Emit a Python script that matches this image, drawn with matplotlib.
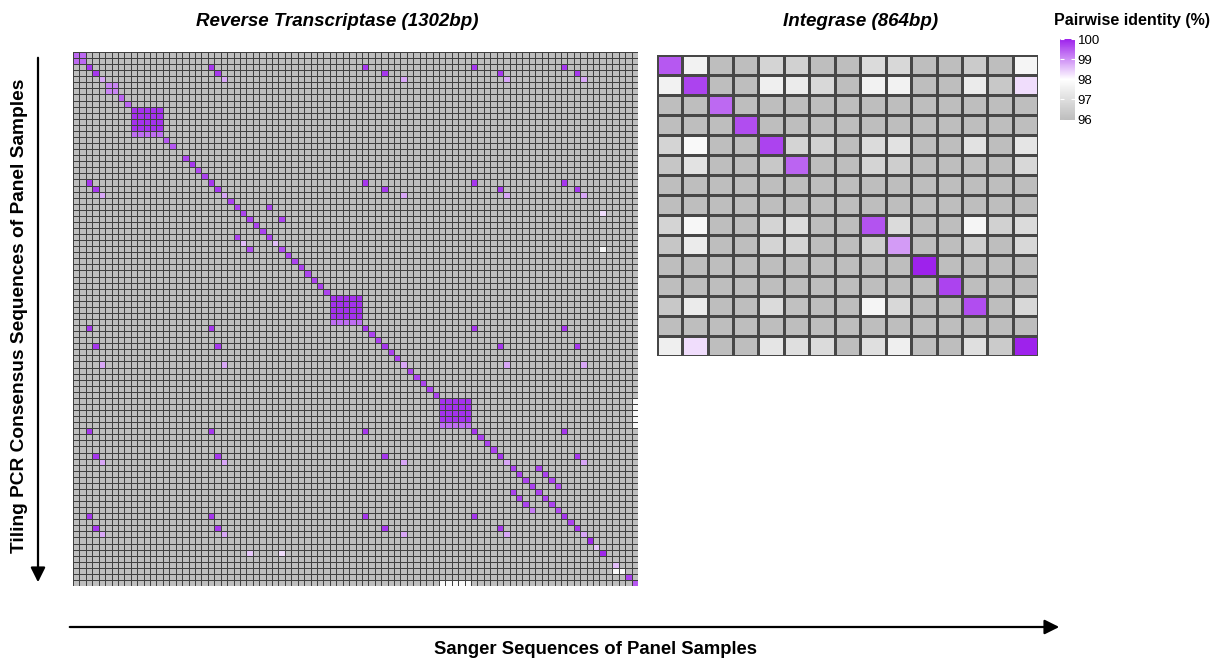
import numpy as np
import matplotlib.pyplot as plt
from matplotlib.colors import LinearSegmentedColormap

plt.rcParams['font.family'] = ['Liberation Sans', 'DejaVu Sans']

### 1. Data ###

# Reverse transcriptase: 88 x 88 grid, everything not listed is below 96 (grey)
n_rt = 88
rt_floor = 95.0

# identity on the diagonal, one value per sample
rt_diag = [99.35, 99.35, 99.8, 99.8, 98.8, 99.1, 99.1, 99.4, 99.4, 99.85,
           99.85, 99.85, 99.85, 99.3, 99.5, 99.5, 95.0, 99.7, 99.8, 99.6,
           99.7, 99.8, 99.8, 98.8, 99.7, 99.7, 99.7, 99.7, 99.7, 99.7,
           99.7, 99.7, 99.7, 99.7, 99.7, 99.7, 99.7, 99.7, 99.7, 99.7,
           99.85, 99.85, 99.85, 99.85, 99.3, 99.8, 99.7, 99.7, 99.8, 99.7,
           99.7, 98.8, 99.7, 99.7, 99.7, 99.7, 99.7, 99.85, 99.85, 99.85,
           99.85, 99.3, 99.8, 99.7, 99.7, 99.7, 99.8, 98.8, 99.7, 99.7,
           99.7, 99.7, 99.7, 99.7, 99.7, 99.6, 99.8, 99.7, 99.8, 98.8,
           99.95, 98.5, 99.95, 95.0, 98.6, 97.8, 99.7, 99.5]

# replicate blocks on the diagonal: (first index, size, value, value of last row)
rt_blocks = [(0, 2, 99.35, 99.35), (5, 2, 99.1, 99.1), (9, 5, 99.85, 99.3),
             (40, 5, 99.85, 99.3), (57, 5, 99.85, 99.3)]

# samples repeated across the panel (all members match each other)
rt_rep_a = [2, 21, 45, 62, 76]
rt_rep_b = [3, 22, 48, 66, 78]
rt_rep_c = [4, 23, 51, 67, 79]
rt_rep_vals = [99.8, 99.8, 98.8]

# other single hits: (row, col, value)
rt_cells = [(25, 25, 99.7), (25, 30, 99.7), (27, 27, 99.7), (27, 32, 99.7),
            (30, 25, 99.7), (30, 30, 99.7), (32, 27, 99.6), (32, 32, 99.6),
            (31, 26, 98.6), (31, 31, 98.6), (26, 82, 98.3), (32, 82, 97.8),
            (82, 27, 98.5), (82, 32, 98.3),
            (68, 72, 99.7), (69, 73, 99.7), (70, 74, 99.7), (71, 75, 99.6),
            (72, 68, 99.7), (73, 69, 99.7), (74, 70, 99.7), (75, 71, 99.2),
            (85, 84, 97.8)]
rt_last_row = [(87, 57, 97.8), (87, 58, 97.8), (87, 59, 97.8), (87, 60, 97.8), (87, 61, 97.8)]
rt_last_col = [(57, 87, 97.8), (58, 87, 97.8), (59, 87, 97.8), (60, 87, 97.8), (61, 87, 97.8)]

# Integrase: 15 x 15 grid read cell by cell
in_values = [
    [99.5, 97.6, 95, 95, 96.7, 96.6, 95, 95, 96.9, 96.8, 95, 95, 96.4, 95, 97.7],
    [97.6, 99.7, 95, 95, 97.5, 97.4, 96.8, 95, 97.6, 97.6, 95, 95, 97.4, 96.3, 98.3],
    [95, 95, 99.35, 95, 95, 95, 95, 95, 95, 95, 95, 95, 95, 95, 95],
    [95, 95, 95, 99.6, 95, 95, 95, 95, 95, 95, 95, 95, 95, 95, 95],
    [96.7, 97.8, 95, 95, 99.7, 96.7, 96.6, 95, 96.9, 97.1, 95, 95, 97.1, 95, 97.2],
    [96.25, 97.1, 95, 95, 96.3, 99.4, 95, 95, 96.7, 96.5, 95, 95, 96.1, 95, 96.8],
    [95, 95, 95, 95, 95, 95, 95, 95, 95, 95, 95, 95, 95, 95, 95],
    [95, 95, 95, 95, 95, 95, 95, 95, 95, 95, 95, 95, 95, 95, 95],
    [96.7, 97.75, 95, 95, 96.7, 96.9, 95, 95, 99.55, 96.9, 95, 95, 97.7, 96.6, 96.9],
    [96.25, 97.4, 95, 95, 96.7, 96.7, 95, 95, 96.5, 98.9, 95, 95, 96.5, 95, 96.8],
    [95, 95, 95, 95, 95, 95, 95, 95, 95, 95, 100, 95, 95, 95, 95],
    [95, 95, 95, 95, 95, 95, 95, 95, 95, 95, 95, 99.7, 95, 95, 95],
    [96.3, 97.4, 95, 95, 96.9, 96.1, 95, 95, 97.7, 96.8, 95, 95, 99.6, 95, 96.8],
    [95, 95, 95, 95, 95, 95, 95, 95, 95, 95, 95, 95, 95, 95, 95],
    [97.5, 98.3, 95, 95, 97.2, 97.0, 96.9, 95, 97.0, 97.5, 95, 95, 97.0, 96.4, 100],
]

### 2. Build the RT matrix ###

rt = np.full((n_rt, n_rt), rt_floor)
for i, v in enumerate(rt_diag):
    rt[i, i] = v
for start, size, v, v_last in rt_blocks:
    rt[start:start + size, start:start + size] = v
    rt[start + size - 1, start:start + size] = v_last
for group, v in zip([rt_rep_a, rt_rep_b, rt_rep_c], rt_rep_vals):
    for r in group:
        for c in group:
            rt[r, c] = v
for r, c, v in rt_cells + rt_last_row + rt_last_col:
    rt[r, c] = v

### 3. Plot ###

cmap = LinearSegmentedColormap.from_list("ident", ["#bebebe", "#ffffff", "#9e22ec"])
vmin, vmax = 96, 100

fig = plt.figure(figsize=(12.18, 6.59), dpi=100)

ax1 = fig.add_axes([73 / 1218, 1 - 586 / 659, 565 / 1218, 534 / 659])
ax1.pcolormesh(rt, cmap=cmap, vmin=vmin, vmax=vmax, edgecolors="#404040", linewidth=0.65)
ax1.set_xlim(0, n_rt)
ax1.set_ylim(n_rt, 0)
ax1.set_axis_off()

ax2 = fig.add_axes([656.7 / 1218, 1 - 355.7 / 659, 381.6 / 1218, 300.7 / 659])
mesh = ax2.pcolormesh(np.array(in_values), cmap=cmap, vmin=vmin, vmax=vmax,
                      edgecolors="#474747", linewidth=0.75)
ax2.set_xlim(0, 15)
ax2.set_ylim(15, 0)
ax2.set_axis_off()

fig.text(337 / 1218, 1 - 22 / 659, "Reverse Transcriptase (1302bp)", ha="center", va="center",
         fontsize=13.5, fontweight="bold", fontstyle="italic")
fig.text(861 / 1218, 1 - 22 / 659, "Integrase (864bp)", ha="center", va="center",
         fontsize=13.5, fontweight="bold", fontstyle="italic")

# colour bar
cax = fig.add_axes([1060 / 1218, 1 - 119.5 / 659, 15 / 1218, 80.5 / 659])
cb = fig.colorbar(mesh, cax=cax, ticks=[96, 97, 98, 99, 100])
cb.outline.set_visible(False)
cax.tick_params(axis="y", direction="in", length=3, width=0.8, color="white",
                left=True, right=True, labelleft=False, labelright=True,
                labelsize=9.5, pad=2)
fig.text(1054 / 1218, 1 - 20 / 659, "Pairwise identity (%)", ha="left", va="center",
         fontsize=11.5, fontweight="bold")

# axis arrows
plt.annotate("", xy=(38, 659 - 585), xytext=(38, 659 - 55), xycoords="figure pixels",
             arrowprops=dict(arrowstyle="-|>", color="black", lw=1.6, mutation_scale=22))
plt.annotate("", xy=(1062, 659 - 627), xytext=(67, 659 - 627), xycoords="figure pixels",
             arrowprops=dict(arrowstyle="-|>", color="black", lw=1.6, mutation_scale=22))

fig.text(20 / 1218, 1 - 316 / 659, "Tiling PCR Consensus Sequences of Panel Samples",
         rotation=90, ha="center", va="center", fontsize=13.8, fontweight="bold")
fig.text(595 / 1218, 1 - 649 / 659, "Sanger Sequences of Panel Samples",
         ha="center", va="center", fontsize=13.3, fontweight="bold")

fig.savefig("out.png", dpi=100)
